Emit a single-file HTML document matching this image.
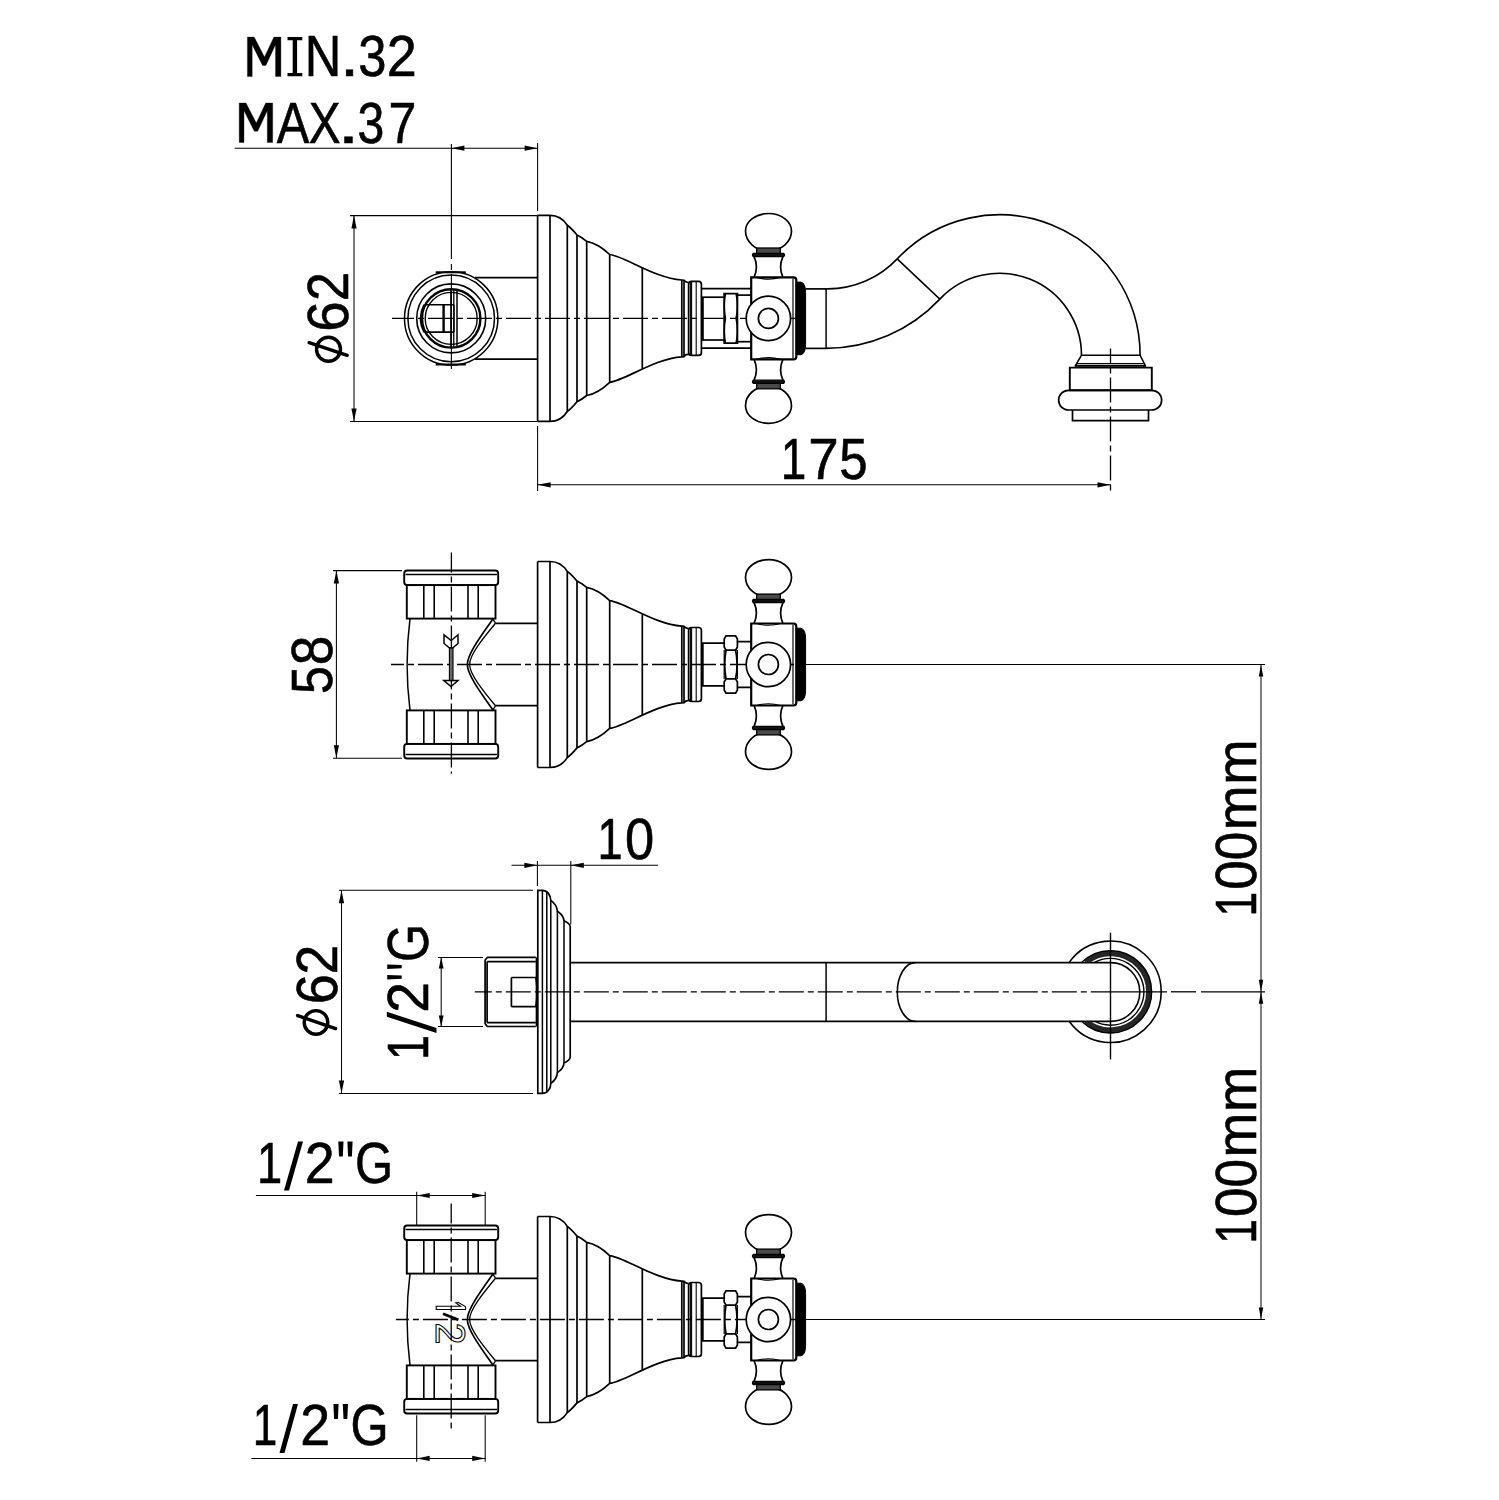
<!DOCTYPE html><html><head><meta charset="utf-8"><style>html,body{margin:0;padding:0;background:#fff;overflow:hidden}svg{display:block}text{font-family:"Liberation Sans",sans-serif;fill:#000;stroke:#000;stroke-width:0.6}</style></head><body><svg width="1499" height="1500" viewBox="0 0 1499 1500"><defs><clipPath id="clipPipe"><path clip-rule="evenodd" d="M1040,900 H1180 V1080 H1040 Z M1040,962.6 H1110.5 V1021.4 H1040 Z"/></clipPath><g id="esc" stroke="#000" stroke-width="1.7" fill="none"><path d="M537.6,-103 L550,-103 Q561,-103 567.3,-93.1 Q571.5,-90 577,-83.4 Q582,-81 586.7,-77.1 Q598,-75 609.7,-63.9 C625,-62 655,-40 681.8,-38.4 L684,-38.2 Q686,-35.5 688.6,-36.2" fill="none"/><path d="M537.6,103 L550,103 Q561,103 567.3,93.1 Q571.5,90 577,83.4 Q582,81 586.7,77.1 Q598,75 609.7,63.9 C625,62 655,40 681.8,38.4 L684,38.2 Q686,35.5 688.6,36.2" fill="none"/><line x1="537.6" y1="-103" x2="537.6" y2="103"/><line x1="550" y1="-103" x2="550" y2="103"/><line x1="567.3" y1="-93.1" x2="567.3" y2="93.1"/><line x1="577" y1="-83.4" x2="577" y2="83.4"/><line x1="586.7" y1="-77.1" x2="586.7" y2="77.1"/><line x1="609.7" y1="-63.9" x2="609.7" y2="63.9"/><line x1="642.3" y1="-51" x2="642.3" y2="51"/><line x1="681.8" y1="-38.4" x2="681.8" y2="38.4"/><line x1="684" y1="-38.2" x2="684" y2="38.2"/><path d="M688.6,-34 Q688.6,-37 691.5,-37 L698.5,-37 Q701.4,-37 701.4,-34 L701.4,34 Q701.4,37 698.5,37 L691.5,37 Q688.6,37 688.6,34 Z" fill="none"/><line x1="690.4" y1="-36.6" x2="690.4" y2="36.6" stroke-width="1.1"/><line x1="691.6" y1="-36.6" x2="691.6" y2="36.6" stroke-width="1.1"/><line x1="696.2" y1="-36.6" x2="696.2" y2="36.6" stroke-width="1.1"/></g><g id="handle" stroke="#000" stroke-width="1.7" fill="none"><path d="M745.5,-87.3 A23,17.6 0 0 1 791.5,-87.3 A23,19.7 0 0 1 745.5,-87.3 Z" fill="#fff"/><path d="M745.5,87.3 A23,19.7 0 0 1 791.5,87.3 A23,17.6 0 0 1 745.5,87.3 Z" fill="#fff"/><rect x="756.7" y="-70.4" width="23.6" height="5.8" fill="#4a4a4a" stroke-width="1.3"/><path d="M753.3,-65 L783.7,-65 Q785.3,-63.4 783.7,-61.8 L753.3,-61.8 Q751.7,-63.4 753.3,-65 Z" fill="#111" stroke-width="1.3"/><path d="M754.1,-61.8 Q758.7,-51.5 754.1,-41"/><path d="M782.9,-61.8 Q778.3,-51.5 782.9,-41"/><path d="M756.5,-41 Q768.5,-37.5 780.5,-41" stroke-width="1.1"/><rect x="756.7" y="64.6" width="23.6" height="5.8" fill="#4a4a4a" stroke-width="1.3"/><path d="M753.3,65 L783.7,65 Q785.3,63.4 783.7,61.8 L753.3,61.8 Q751.7,63.4 753.3,65 Z" fill="#111" stroke-width="1.3"/><path d="M754.1,61.8 Q758.7,51.5 754.1,41"/><path d="M782.9,61.8 Q778.3,51.5 782.9,41"/><path d="M756.5,41 Q768.5,37.5 780.5,41" stroke-width="1.1"/><path d="M751.2,-41 L793.5,-41 Q796.3,-41 796.3,-38 L796.3,38 Q796.3,41 793.5,41 L751.2,41 Z" stroke-width="2.2"/><line x1="793" y1="-40" x2="793" y2="40" stroke-width="1.2"/><path d="M796.3,-36.3 L801,-36.3 Q805.6,-35 805.6,-26 L805.6,26 Q805.6,35 801,36.3 L796.3,36.3 Z" fill="#000" stroke-width="1"/><circle cx="768.4" cy="0" r="22.2" fill="#fff"/><circle cx="768.4" cy="0" r="10"/></g><g id="tbody" stroke="#000" stroke-width="1.7" fill="none"><rect x="404.2" y="-94" width="94" height="14.6" rx="3" ry="3" stroke-width="1.9"/><line x1="405.5" y1="-90" x2="497" y2="-90" stroke-width="1.4"/><rect x="406.8" y="-79.4" width="88.7" height="33.5" stroke-width="1.9"/><line x1="423.8" y1="-79.4" x2="423.8" y2="-45.9" stroke-width="1.6"/><line x1="434.2" y1="-79.4" x2="434.2" y2="-45.9" stroke-width="1.6"/><line x1="468" y1="-79.4" x2="468" y2="-45.9" stroke-width="1.6"/><line x1="478.2" y1="-79.4" x2="478.2" y2="-45.9" stroke-width="1.6"/><rect x="404.2" y="79.4" width="94" height="14.6" rx="3" ry="3" stroke-width="1.9"/><line x1="405.5" y1="90" x2="497" y2="90" stroke-width="1.4"/><rect x="406.8" y="45.9" width="88.7" height="33.5" stroke-width="1.9"/><line x1="423.8" y1="45.9" x2="423.8" y2="79.4" stroke-width="1.6"/><line x1="434.2" y1="45.9" x2="434.2" y2="79.4" stroke-width="1.6"/><line x1="468" y1="45.9" x2="468" y2="79.4" stroke-width="1.6"/><line x1="478.2" y1="45.9" x2="478.2" y2="79.4" stroke-width="1.6"/><path d="M410,-45.9 Q404.2,0 410,45.9" stroke-width="1.5"/><path d="M492.6,-45 C482,-30 467,-10 467.4,0 C467,10 482,30 492.6,45" stroke-width="1.7"/><path d="M495.5,-41.3 C484.5,-28 469.5,-10 469.6,0 C469.5,10 484.5,28 495.5,41.3" stroke-width="1.3"/><line x1="492.6" y1="-45.9" x2="495.5" y2="-41.3" stroke-width="1.3"/><line x1="492.6" y1="45.9" x2="495.5" y2="41.3" stroke-width="1.3"/><line x1="495.5" y1="-41.2" x2="537.6" y2="-41.2" stroke-width="1.7"/><line x1="495.5" y1="41.2" x2="537.6" y2="41.2" stroke-width="1.7"/></g><g id="bonhex" stroke="#000" stroke-width="1.7" fill="none"><path d="M701.4,-21.3 L724.2,-21.3 M701.4,21.4 L724.2,21.4" stroke-width="1.7"/><line x1="702.5" y1="-21.3" x2="702.5" y2="21.4" stroke-width="2.4"/><path d="M726,-28.6 L735.6,-28.6 L737.4,-25.5 L737.4,-17.5 L735.6,-14.4 L726,-14.4 L724.2,-17.5 L724.2,-25.5 Z" stroke-width="1.7"/><path d="M726,28.6 L735.6,28.6 L737.4,25.5 L737.4,17.5 L735.6,14.4 L726,14.4 L724.2,17.5 L724.2,25.5 Z" stroke-width="1.7"/><path d="M726,-14.4 Q723.5,0 726,14.4 M735.6,-14.4 Q738.5,0 735.6,14.4" stroke-width="1.7"/><path d="M724.2,-14.4 L724.2,14.4 M737.4,-14.4 L737.4,14.4" stroke-width="1.2"/><path d="M737.4,-22.8 L751,-22.8 M737.4,22.8 L751,22.8" stroke-width="1.7"/></g></defs><rect width="1499" height="1500" fill="#fff"/><g stroke="#000" fill="none" font-family="Liberation Sans, sans-serif"><path d="M239.2,142.5 V103 H246 L256.3,123 L265.7,103 H272.7 V142.5 H267.3 V110.7 L257.7,131.3 H254.3 L244,110.7 V142.5 Z" transform="translate(8.2 -65.9)" fill="#000" stroke="#000" stroke-width="0.3"/>
<text x="304.85" y="76.2" font-size="57" textLength="36.56" lengthAdjust="spacingAndGlyphs" >N</text>
<text x="340.04" y="76.2" font-size="57" textLength="19.1" lengthAdjust="spacingAndGlyphs" >.</text>
<text x="358.18" y="76.2" font-size="57" textLength="28.16" lengthAdjust="spacingAndGlyphs" >3</text>
<text x="386.8" y="76.2" font-size="57" textLength="30" lengthAdjust="spacingAndGlyphs" >2</text>
<path d="M287.5,37.0 H302.3 V40.3 H297.1 V73.0 H302.3 V76.3 H287.5 V73.0 H292.7 V40.3 H287.5 Z" fill="#000" stroke="none"/>
<path d="M239.2,142.5 V103 H246 L256.3,123 L265.7,103 H272.7 V142.5 H267.3 V110.7 L257.7,131.3 H254.3 L244,110.7 V142.5 Z" fill="#000" stroke="#000" stroke-width="0.3"/>
<text x="276.8" y="142.5" font-size="57" textLength="32.49" lengthAdjust="spacingAndGlyphs" >A</text>
<text x="308.8" y="142.5" font-size="57" textLength="31.8" lengthAdjust="spacingAndGlyphs" >X</text>
<text x="337.5" y="142.5" font-size="57" textLength="21.99" lengthAdjust="spacingAndGlyphs" >.</text>
<text x="357.47" y="142.5" font-size="57" textLength="26.75" lengthAdjust="spacingAndGlyphs" >3</text>
<text x="388.44" y="142.5" font-size="57" textLength="27.87" lengthAdjust="spacingAndGlyphs" >7</text>
<line x1="234.7" y1="148.2" x2="537.6" y2="148.2" stroke-width="1.05" />
<polygon points="451.4,148.2 464.4,145.6 464.4,150.8" fill="#000" stroke="none"/>
<polygon points="537.6,148.2 524.6,145.6 524.6,150.8" fill="#000" stroke="none"/>
<line x1="537.6" y1="143" x2="537.6" y2="211" stroke-width="1.05" />
<line x1="451.4" y1="144" x2="451.4" y2="259" stroke-width="1.1" />
<line x1="451.4" y1="264" x2="451.4" y2="270" stroke-width="1.1" />
<line x1="451.4" y1="274" x2="451.4" y2="369" stroke-width="1.1" />
<line x1="350" y1="215.6" x2="537.6" y2="215.6" stroke-width="1.05" />
<line x1="350" y1="421.4" x2="537.6" y2="421.4" stroke-width="1.05" />
<line x1="354" y1="215.6" x2="354" y2="421.4" stroke-width="1.05" />
<polygon points="354,215.6 351.4,228.6 356.6,228.6" fill="#000" stroke="none"/>
<polygon points="354,421.4 351.4,408.4 356.6,408.4" fill="#000" stroke="none"/>
<circle cx="451.2" cy="318.4" r="46.7" stroke-width="1.5" fill="none" />
<circle cx="451.2" cy="318.4" r="43.3" stroke-width="1.5" fill="none" />
<circle cx="451.2" cy="318.4" r="34.5" stroke-width="1.6" fill="none" />
<circle cx="451.2" cy="318.4" r="29.2" stroke-width="2.4" fill="none" />
<circle cx="451.2" cy="318.4" r="26" stroke-width="1.4" fill="none" />
<line x1="435.7" y1="272.3" x2="465.8" y2="272.3" stroke-width="2.0" />
<line x1="435.7" y1="364.5" x2="465.8" y2="364.5" stroke-width="2.0" />
<line x1="475" y1="277.6" x2="537.6" y2="277.6" stroke-width="1.7" />
<line x1="475" y1="359.2" x2="537.6" y2="359.2" stroke-width="1.7" />
<line x1="451" y1="289.9" x2="451" y2="346.9" stroke-width="1.7" />
<line x1="453.8" y1="290.02" x2="453.8" y2="346.78" stroke-width="1.3" />
<line x1="457" y1="290.5" x2="457" y2="346.3" stroke-width="1.5" />
<path d="M424.5,304.8 L454,304.8 M424.5,332.1 L454,332.1" stroke-width="1.6" fill="none" />
<line x1="443.6" y1="304.8" x2="443.6" y2="332.1" stroke-width="2.4" />
<line x1="454" y1="304.8" x2="454" y2="332.1" stroke-width="1.3" />
<path d="M424.5,304.8 A29.2,29.2 0 0 0 424.5,332.1" stroke-width="2.6" fill="none"/>
<line x1="392" y1="318.4" x2="798" y2="318.4" stroke-width="1.4" stroke-dasharray="25 4 6 4" stroke-dashoffset="3"/>
<use href="#esc" transform="translate(0 318.4)"/>
<line x1="701.4" y1="288.7" x2="751" y2="288.7" stroke-width="1.7" />
<line x1="701.4" y1="348.1" x2="751" y2="348.1" stroke-width="1.7" />
<line x1="701.4" y1="297.2" x2="724.2" y2="297.2" stroke-width="1.7" />
<line x1="701.4" y1="340" x2="724.2" y2="340" stroke-width="1.7" />
<line x1="702.6" y1="297.2" x2="702.6" y2="340" stroke-width="2.4" />
<path d="M724.2,293.6 L737.4,293.6 L737.4,343.2 L724.2,343.2 Z" stroke-width="1.8" fill="none" />
<path d="M725.5,293.6 Q723,306 725.5,318.4 Q723,330.8 725.5,343.2 M736.1,293.6 Q738.6,306 736.1,318.4 Q738.6,330.8 736.1,343.2" stroke-width="1.5" fill="none" />
<line x1="737.4" y1="295.1" x2="751" y2="295.1" stroke-width="1.7" />
<line x1="737.4" y1="341.7" x2="751" y2="341.7" stroke-width="1.7" />
<use href="#handle" transform="translate(0 318.4)"/>
<line x1="805.6" y1="288.9" x2="826.1" y2="288.9" stroke-width="1.7" />
<line x1="805.6" y1="348.4" x2="826.1" y2="348.4" stroke-width="1.7" />
<line x1="826.1" y1="288.9" x2="826.1" y2="348.4" stroke-width="1.5" />
<path d="M826.1,288.9 L827.81,288.9 A95.33,95.33 0 0 0 897.19,258.92 A140.6,140.6 0 0 1 1140.1,355.3" stroke-width="1.6" fill="none" />
<path d="M826.1,348.4 L825.73,348.4 A156.79,156.79 0 0 0 939.83,299.09 A82.0,82.0 0 0 1 1081.5,355.3" stroke-width="1.6" fill="none" />
<line x1="897.19" y1="258.92" x2="939.83" y2="299.09" stroke-width="1.5" />
<path d="M1081.5,355.2 L1140.1,355.2 L1145.2,365.5 L1075.5,365.5 Z" stroke-width="1.6" fill="none" />
<line x1="1077" y1="363.5" x2="1143.5" y2="363.5" stroke-width="1.2" />
<path d="M1069.8,367.6 L1151.8,367.6 L1151.8,390.3 L1069.8,390.3 Z" stroke-width="1.9" fill="none" />
<line x1="1075" y1="366.2" x2="1146" y2="366.2" stroke-width="1.2" />
<path d="M1068.5,390.3 L1151.8,390.3 A9.85,9.85 0 0 1 1151.8,410 L1068.5,410 A9.85,9.85 0 0 1 1068.5,390.3 Z" stroke-width="1.7" fill="none" />
<path d="M1072.5,410 L1072.5,420.7 L1148.5,420.7 L1148.5,410" stroke-width="1.7" fill="none" />
<line x1="1110.5" y1="348.4" x2="1110.5" y2="491" stroke-width="1.3" stroke-dasharray="25 4 6 4" stroke-dashoffset="10"/>
<line x1="537.6" y1="426" x2="537.6" y2="491" stroke-width="1.05" />
<line x1="537.6" y1="484.8" x2="1110.5" y2="484.8" stroke-width="1.05" />
<polygon points="537.6,484.8 550.6,482.2 550.6,487.4" fill="#000" stroke="none"/>
<polygon points="1110.5,484.8 1097.5,482.2 1097.5,487.4" fill="#000" stroke="none"/>
<text x="780.81" y="479.4" font-size="57" textLength="25.55" lengthAdjust="spacingAndGlyphs" >1</text>
<text x="808.31" y="479.4" font-size="57" textLength="30.44" lengthAdjust="spacingAndGlyphs" >7</text>
<text x="839.16" y="479.4" font-size="57" textLength="28.39" lengthAdjust="spacingAndGlyphs" >5</text>
<line x1="333" y1="570.6" x2="402" y2="570.6" stroke-width="1.05" />
<line x1="333" y1="758.2" x2="402" y2="758.2" stroke-width="1.05" />
<line x1="336.4" y1="570.6" x2="336.4" y2="758.2" stroke-width="1.05" />
<polygon points="336.4,570.6 333.8,583.6 339,583.6" fill="#000" stroke="none"/>
<polygon points="336.4,758.2 333.8,745.2 339,745.2" fill="#000" stroke="none"/>
<text x="331.8" y="694.01" font-size="57.5" textLength="27.93" lengthAdjust="spacingAndGlyphs" transform="rotate(-90 331.8 694.01)" >5</text>
<text x="331.8" y="665.19" font-size="57.5" textLength="29.58" lengthAdjust="spacingAndGlyphs" transform="rotate(-90 331.8 665.19)" >8</text>
<line x1="451.4" y1="552.6" x2="451.4" y2="773.8" stroke-width="1.3" stroke-dasharray="25 4 6 4" stroke-dashoffset="5"/>
<line x1="391" y1="664.5" x2="800" y2="664.5" stroke-width="1.4" stroke-dasharray="25 4 6 4" stroke-dashoffset="12"/>
<line x1="805.6" y1="664.5" x2="1265" y2="664.5" stroke-width="1.2" />
<use href="#tbody" transform="translate(0 664.5)"/>
<path d="M444,634.8 L451.2,640.5 L458,634.8 L458,643.5 L452.6,648.1 L449.6,648.1 L444,643.5 Z" stroke-width="1.5" fill="none" />
<rect x="449.4" y="648.1" width="3.6" height="32.5" fill="#666" stroke-width="1.1"/>
<path d="M443.8,680.6 L458,680.6 L451,686.6 Z" stroke-width="1.5" fill="none" />
<use href="#esc" transform="translate(0 664.5)"/>
<use href="#bonhex" transform="translate(0 664.5)"/>
<use href="#handle" transform="translate(0 664.5)"/>
<line x1="511.6" y1="865.3" x2="658" y2="865.3" stroke-width="1.05" />
<polygon points="537.4,865.3 524.4,862.7 524.4,867.9" fill="#000" stroke="none"/>
<polygon points="570.8,865.3 583.8,862.7 583.8,867.9" fill="#000" stroke="none"/>
<line x1="537.4" y1="861" x2="537.4" y2="886" stroke-width="1.05" />
<line x1="570.8" y1="861" x2="570.8" y2="924.5" stroke-width="1.05" />
<text x="597.46" y="859.3" font-size="57" textLength="25.16" lengthAdjust="spacingAndGlyphs" >1</text>
<text x="625.05" y="859.3" font-size="57" textLength="29.2" lengthAdjust="spacingAndGlyphs" >0</text>
<line x1="338.9" y1="890.2" x2="533" y2="890.2" stroke-width="1.05" />
<line x1="338.9" y1="1093.4" x2="533" y2="1093.4" stroke-width="1.05" />
<line x1="341.5" y1="890.2" x2="341.5" y2="1093.4" stroke-width="1.05" />
<polygon points="341.5,890.2 338.9,903.2 344.1,903.2" fill="#000" stroke="none"/>
<polygon points="341.5,1093.4 338.9,1080.4 344.1,1080.4" fill="#000" stroke="none"/>
<line x1="437.9" y1="957.4" x2="483" y2="957.4" stroke-width="1.05" />
<line x1="437.9" y1="1026.5" x2="483" y2="1026.5" stroke-width="1.05" />
<line x1="441.2" y1="957.4" x2="441.2" y2="1026.5" stroke-width="1.05" />
<polygon points="441.2,957.4 438.8,968.4 443.6,968.4" fill="#000" stroke="none"/>
<polygon points="441.2,1026.5 438.8,1015.5 443.6,1015.5" fill="#000" stroke="none"/>
<path d="M487.1,957.4 L535.8,957.4 M487.1,961.6 L535.8,961.6 M487.1,1022.6 L535.8,1022.6 M487.1,1026.5 L535.8,1026.5" stroke-width="1.7" fill="none" />
<path d="M487.1,957.4 L485.1,960.2 L485.1,1023.5 L487.1,1026.5 M487.1,961.6 L487.1,1022.6" stroke-width="1.7" fill="none" />
<path d="M511.4,977.5 L535.8,977.5 M511.4,1006.7 L535.8,1006.7 M511.4,977.5 L511.4,1006.7" stroke-width="1.7" fill="none" />
<path d="M536.5,957.4 L536.5,1026.5" stroke-width="1.7" fill="none" />
<path d="M535.8,977.5 Q538,992 535.8,1006.7" stroke-width="1.5" fill="none" />
<path d="M537.8,890.4 L542.4,890.4 C547.02,890.4 550.8,894.9 550.8,900.4 C553.77,902.56 557.07,905.8 557.4,911.2 C560.37,913.12 563.67,916 564,920.8 C566.79,921.96 569.89,923.7 570.2,926.6 L570.2,1057.2 C569.89,1060.1 566.79,1061.84 564,1063 C563.67,1067.8 560.37,1070.68 557.4,1072.6 C557.07,1078 553.77,1081.24 550.8,1083.4 C550.8,1088.9 547.02,1093.4 542.4,1093.4 L537.8,1093.4 Z" stroke-width="1.7" fill="none" />
<line x1="542.4" y1="890.4" x2="542.4" y2="1093.4" stroke-width="1.5" />
<line x1="546.8" y1="891.5" x2="546.8" y2="1092.3" stroke-width="1.5" />
<line x1="550.8" y1="900.4" x2="550.8" y2="1083.4" stroke-width="1.5" />
<line x1="557.4" y1="911.2" x2="557.4" y2="1072.6" stroke-width="1.5" />
<line x1="564" y1="920.8" x2="564" y2="1063" stroke-width="1.5" />
<line x1="570.9" y1="962.6" x2="1110.5" y2="962.6" stroke-width="1.7" />
<line x1="570.9" y1="1021.4" x2="1110.5" y2="1021.4" stroke-width="1.7" />
<line x1="826.1" y1="962.6" x2="826.1" y2="1021.4" stroke-width="1.5" />
<path d="M915.3,962.6 A18,29.4 0 0 0 915.3,1021.4" stroke-width="1.6" fill="none" />
<path d="M1069.19,962.4 A50.7,50.7 0 1 1 1069.19,1021.2" stroke-width="1.6" fill="none" />
<g clip-path="url(#clipPipe)">
<path d="M1085.64,962.4 A38.5,38.5 0 1 1 1085.64,1021.2" stroke-width="5.8" stroke="#262626" fill="none"/>
<path d="M1094.65,962.4 A33.4,33.4 0 1 1 1094.65,1021.2" stroke-width="1.4" fill="none" />
<path d="M1081.64,962.4 A41.2,41.2 0 1 1 1081.64,1021.2" stroke-width="1.3" fill="none" />
</g>
<path d="M1110.5,962.6 A29.3,29.4 0 0 1 1110.5,1021.4" stroke-width="1.6" fill="none" />
<line x1="1110.5" y1="932.7" x2="1110.5" y2="1059.4" stroke-width="1.4" />
<line x1="474.8" y1="991.8" x2="1110" y2="991.8" stroke-width="1.3" stroke-dasharray="25 4 6 4" stroke-dashoffset="8"/>
<line x1="1110" y1="991.8" x2="1167" y2="991.8" stroke-width="1.3" />
<line x1="1171" y1="991.8" x2="1196" y2="991.8" stroke-width="1.3" />
<line x1="1201" y1="991.8" x2="1265" y2="991.8" stroke-width="1.3" />
<line x1="1261" y1="664.5" x2="1261" y2="1319.5" stroke-width="1.0" />
<polygon points="1261,664.5 1258.8,676.5 1263.2,676.5" fill="#000" stroke="none"/>
<polygon points="1261,991.8 1258.8,979.8 1263.2,979.8" fill="#000" stroke="none"/>
<polygon points="1261,991.8 1258.8,1003.8 1263.2,1003.8" fill="#000" stroke="none"/>
<polygon points="1261,1319.5 1258.8,1307.5 1263.2,1307.5" fill="#000" stroke="none"/>
<text x="1255.8" y="916.47" font-size="57.3" textLength="24.65" lengthAdjust="spacingAndGlyphs" transform="rotate(-90 1255.8 916.47)" >1</text>
<text x="1255.8" y="889.86" font-size="57.3" textLength="29.44" lengthAdjust="spacingAndGlyphs" transform="rotate(-90 1255.8 889.86)" >0</text>
<text x="1255.8" y="860.21" font-size="57.3" textLength="28.62" lengthAdjust="spacingAndGlyphs" transform="rotate(-90 1255.8 860.21)" >0</text>
<text x="1255.8" y="830.34" font-size="57.3" textLength="44.68" lengthAdjust="spacingAndGlyphs" transform="rotate(-90 1255.8 830.34)" >m</text>
<text x="1255.8" y="784.8" font-size="57.3" textLength="45.39" lengthAdjust="spacingAndGlyphs" transform="rotate(-90 1255.8 784.8)" >m</text>
<text x="1255.8" y="1243.67" font-size="57.3" textLength="24.65" lengthAdjust="spacingAndGlyphs" transform="rotate(-90 1255.8 1243.67)" >1</text>
<text x="1255.8" y="1217.06" font-size="57.3" textLength="29.44" lengthAdjust="spacingAndGlyphs" transform="rotate(-90 1255.8 1217.06)" >0</text>
<text x="1255.8" y="1187.41" font-size="57.3" textLength="28.62" lengthAdjust="spacingAndGlyphs" transform="rotate(-90 1255.8 1187.41)" >0</text>
<text x="1255.8" y="1157.54" font-size="57.3" textLength="44.68" lengthAdjust="spacingAndGlyphs" transform="rotate(-90 1255.8 1157.54)" >m</text>
<text x="1255.8" y="1112" font-size="57.3" textLength="45.39" lengthAdjust="spacingAndGlyphs" transform="rotate(-90 1255.8 1112)" >m</text>
<text x="257.06" y="1182.6" font-size="57" textLength="25.16" lengthAdjust="spacingAndGlyphs" >1</text>
<text x="304.81" y="1182.6" font-size="57" textLength="29.88" lengthAdjust="spacingAndGlyphs" >2</text>
<text x="355.05" y="1182.6" font-size="57" textLength="38.12" lengthAdjust="spacingAndGlyphs" >G</text>
<path d="M298,1141.5 H303 L289,1190.5 H284 Z" fill="#000" stroke="none"/>
<path d="M338.3,1141.6 H343.5 L342.8,1156.5 H339 Z M347.4,1141.6 H352.6 L351.9,1156.5 H348.1 Z" fill="#000" stroke="none"/>
<text x="252.65" y="1444.5" font-size="57" textLength="24.52" lengthAdjust="spacingAndGlyphs" >1</text>
<text x="300.31" y="1444.5" font-size="57" textLength="29.88" lengthAdjust="spacingAndGlyphs" >2</text>
<text x="350.55" y="1444.5" font-size="57" textLength="38.12" lengthAdjust="spacingAndGlyphs" >G</text>
<path d="M293,1404 H298 L284.5,1453 H279.5 Z" fill="#000" stroke="none"/>
<path d="M333.4,1404.0 H338.6 L337.9,1419.0 H334.1 Z M342.8,1404.0 H348.0 L347.3,1419.0 H343.5 Z" fill="#000" stroke="none"/>
<line x1="255.9" y1="1195.5" x2="485.2" y2="1195.5" stroke-width="1.05" />
<polygon points="416.7,1195.5 429.7,1192.9 429.7,1198.1" fill="#000" stroke="none"/>
<polygon points="485.2,1195.5 472.2,1192.9 472.2,1198.1" fill="#000" stroke="none"/>
<line x1="416.7" y1="1191.7" x2="416.7" y2="1225" stroke-width="1.05" />
<line x1="485.2" y1="1191.7" x2="485.2" y2="1225" stroke-width="1.05" />
<line x1="251.3" y1="1458.4" x2="485.2" y2="1458.4" stroke-width="1.05" />
<polygon points="416.7,1458.4 429.7,1455.8 429.7,1461" fill="#000" stroke="none"/>
<polygon points="485.2,1458.4 472.2,1455.8 472.2,1461" fill="#000" stroke="none"/>
<line x1="416.7" y1="1415.3" x2="416.7" y2="1461.8" stroke-width="1.05" />
<line x1="485.2" y1="1415.3" x2="485.2" y2="1461.8" stroke-width="1.05" />
<line x1="451.2" y1="1203.4" x2="451.2" y2="1431.2" stroke-width="1.3" stroke-dasharray="25 4 6 4" stroke-dashoffset="5"/>
<line x1="395.9" y1="1319.5" x2="800" y2="1319.5" stroke-width="1.4" stroke-dasharray="25 4 6 4" stroke-dashoffset="12"/>
<line x1="805.6" y1="1319.5" x2="1265" y2="1319.5" stroke-width="1.2" />
<use href="#tbody" transform="translate(0 1319.5)"/>
<path d="M436.2,1306.2 L460.5,1306.2 L455.8,1302.9 L458.6,1302.5 L465.6,1306.8 L465.6,1309.5 L436.2,1309.5 Z" stroke-width="1.1" fill="none" />
<line x1="443" y1="1313.7" x2="458.4" y2="1319.8" stroke-width="2.6" />
<text x="435.8" y="1322.43" font-size="42.37" textLength="21.95" lengthAdjust="spacingAndGlyphs" transform="rotate(90 435.8 1322.43)" style="fill:none;stroke:#000;stroke-width:1.1">2</text>
<use href="#esc" transform="translate(0 1319.5)"/>
<use href="#bonhex" transform="translate(0 1319.5)"/>
<use href="#handle" transform="translate(0 1319.5)"/>
<text x="348.1" y="331.69" font-size="57.5" textLength="30.4" lengthAdjust="spacingAndGlyphs" transform="rotate(-90 348.1 331.69)" >6</text>
<text x="348.1" y="301.11" font-size="57.5" textLength="29.03" lengthAdjust="spacingAndGlyphs" transform="rotate(-90 348.1 301.11)" >2</text>
<circle cx="328.5" cy="349.2" r="12" stroke-width="3.4" fill="none" />
<line x1="309.1" y1="342.7" x2="347.2" y2="355.3" stroke-width="3.4" stroke-linecap="round"/>
<text x="336.9" y="1004.15" font-size="57.5" textLength="30.04" lengthAdjust="spacingAndGlyphs" transform="rotate(-90 336.9 1004.15)" >6</text>
<text x="336.9" y="974.56" font-size="57.5" textLength="29.64" lengthAdjust="spacingAndGlyphs" transform="rotate(-90 336.9 974.56)" >2</text>
<circle cx="316" cy="1022.4" r="11.8" stroke-width="3.4" fill="none" />
<line x1="297.6" y1="1015.6" x2="335.6" y2="1028.6" stroke-width="3.4" stroke-linecap="round"/>
<text x="428.5" y="1060.1" font-size="57.5" textLength="24.9" lengthAdjust="spacingAndGlyphs" transform="rotate(-90 428.5 1060.1)" >1</text>
<text x="428.5" y="1012.66" font-size="57.5" textLength="30.73" lengthAdjust="spacingAndGlyphs" transform="rotate(-90 428.5 1012.66)" >2</text>
<text x="428.5" y="962.04" font-size="57.5" textLength="38" lengthAdjust="spacingAndGlyphs" transform="rotate(-90 428.5 962.04)" >G</text>
<path d="M386.8,1011.8 V1016.8 L436.5,1033 V1028 Z" fill="#000" stroke="none"/>
<path d="M387.2,964.4 V969.0 L401.7,968.3 V965.1 Z M387.2,974.9 V979.5 L401.7,978.8 V975.6 Z" fill="#000" stroke="none"/></g></svg></body></html>
